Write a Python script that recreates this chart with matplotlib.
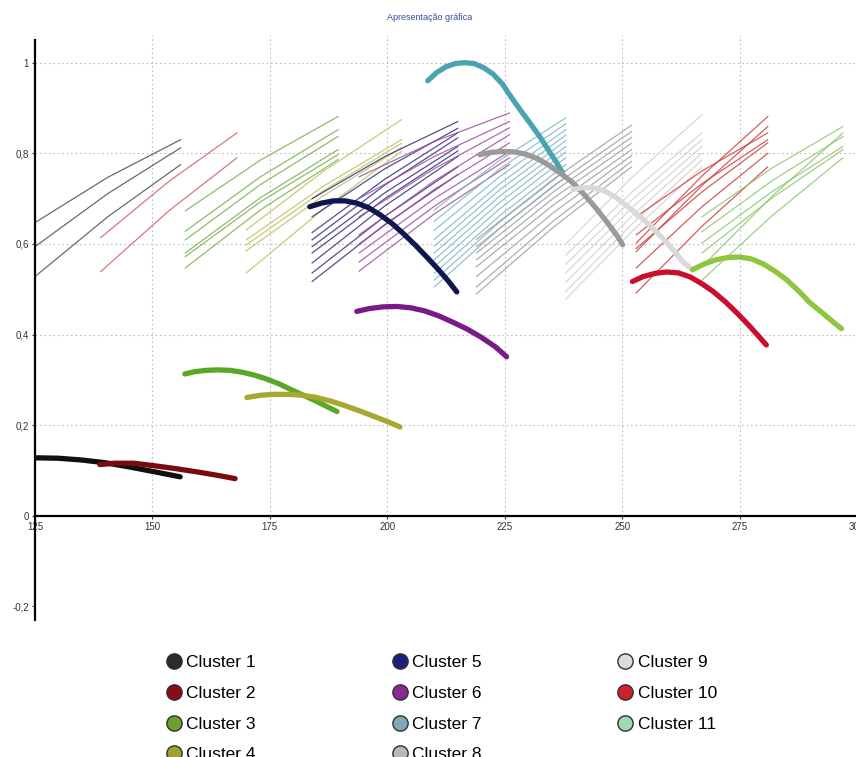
import matplotlib.pyplot as plt

plt.rcParams['font.family'] = ['Liberation Sans', 'DejaVu Sans']

labels = ['Cluster %d' % i for i in range(1, 12)]
legend_colors = ['#2a2a2a', '#8b0a1a', '#6aa030', '#a0a030', '#1a2080', '#8a2a90',
                 '#80a8b8', '#b8b8b8', '#dcdcdc', '#d02030', '#a0d8b0']
thin_colors = ['#505050', '#d06060', '#78b050', '#c0c060', '#303080', '#a050a0',
               '#80b8c8', '#a0a0a0', '#d0d0d0', '#d04040', '#8cc870']
thick_colors = ['#101010', '#7a0a10', '#5aa828', '#a8a830', '#101650', '#7a1a88',
                '#4aa3b0', '#9a9a9a', '#d9d9d9', '#c8102e', '#8dc63f']

# thin lines: x of start / middle / end, then y triples per line
thin_x = [[125, 140.5, 156], [139, 153.5, 168], [157, 173, 189.5], [170, 186.5, 203],
          [184, 199.5, 215], [194, 210, 226], [210, 224, 238], [219, 235.5, 252],
          [238, 252.5, 267], [253, 267, 281], [267, 282, 297]]
thin_c1 = [(0.647, 0.747, 0.830), (0.594, 0.711, 0.812), (0.528, 0.660, 0.775)]
thin_c2 = [(0.614, 0.738, 0.845), (0.539, 0.673, 0.790)]
thin_c3 = [(0.673, 0.785, 0.881), (0.628, 0.748, 0.852), (0.609, 0.731, 0.837),
           (0.580, 0.702, 0.808), (0.572, 0.693, 0.797), (0.547, 0.675, 0.786)]
thin_c4 = [(0.631, 0.761, 0.874), (0.609, 0.728, 0.830), (0.598, 0.718, 0.822),
           (0.585, 0.707, 0.812), (0.536, 0.678, 0.804)]
thin_c5 = [(0.700, 0.793, 0.870), (0.660, 0.766, 0.855), (0.625, 0.743, 0.845),
           (0.609, 0.730, 0.834), (0.594, 0.713, 0.815), (0.580, 0.700, 0.805),
           (0.558, 0.684, 0.793), (0.536, 0.661, 0.770), (0.517, 0.643, 0.753)]
thin_c6 = [(0.748, 0.826, 0.889), (0.700, 0.793, 0.870), (0.660, 0.766, 0.856),
           (0.620, 0.739, 0.841), (0.600, 0.720, 0.823), (0.580, 0.700, 0.804),
           (0.560, 0.683, 0.790), (0.540, 0.666, 0.775)]
thin_c7 = [(0.675, 0.785, 0.878), (0.650, 0.766, 0.865), (0.630, 0.749, 0.852),
           (0.610, 0.733, 0.840), (0.595, 0.720, 0.828), (0.580, 0.706, 0.815),
           (0.565, 0.692, 0.803), (0.550, 0.678, 0.790), (0.535, 0.663, 0.775),
           (0.520, 0.649, 0.762), (0.505, 0.635, 0.748)]
thin_c8 = [(0.610, 0.744, 0.862), (0.594, 0.729, 0.848), (0.580, 0.716, 0.835),
           (0.565, 0.702, 0.822), (0.550, 0.687, 0.808), (0.528, 0.670, 0.795),
           (0.505, 0.652, 0.782), (0.490, 0.638, 0.770)]
thin_c9 = [(0.600, 0.751, 0.885), (0.575, 0.718, 0.845), (0.555, 0.701, 0.830),
           (0.536, 0.684, 0.815), (0.515, 0.666, 0.800), (0.495, 0.648, 0.785),
           (0.478, 0.632, 0.770)]
thin_c10 = [(0.660, 0.761, 0.845), (0.602, 0.750, 0.881), (0.590, 0.715, 0.823),
            (0.583, 0.729, 0.859), (0.547, 0.682, 0.800), (0.492, 0.639, 0.770),
            (0.620, 0.733, 0.830)]
thin_c11 = [(0.660, 0.768, 0.859), (0.627, 0.740, 0.837), (0.602, 0.716, 0.815),
            (0.580, 0.702, 0.808), (0.520, 0.663, 0.790), (0.550, 0.706, 0.845)]
thin_y = [thin_c1, thin_c2, thin_c3, thin_c4, thin_c5, thin_c6,
          thin_c7, thin_c8, thin_c9, thin_c10, thin_c11]

# thick centroid curves, points read along each arc
thick_c1_x = [125, 130, 135, 140, 145, 150, 155.9]
thick_c1_y = [0.128, 0.127, 0.123, 0.117, 0.108, 0.098, 0.086]
thick_c2_x = [138.8, 142, 146, 150, 155, 160, 164, 167.6]
thick_c2_y = [0.113, 0.116, 0.116, 0.111, 0.104, 0.096, 0.089, 0.082]
thick_c3_x = [156.9, 159, 161.5, 164, 166.5, 169, 171.5, 174, 177, 180, 183, 186, 189.3]
thick_c3_y = [0.313, 0.318, 0.321, 0.322, 0.321, 0.317, 0.311, 0.303, 0.291, 0.276,
              0.262, 0.247, 0.230]
thick_c4_x = [170.1, 173, 176, 179, 182, 185, 188, 191, 194, 197, 200, 202.7]
thick_c4_y = [0.261, 0.266, 0.268, 0.268, 0.266, 0.261, 0.253, 0.243, 0.232, 0.220,
              0.208, 0.196]
thick_c5_x = [183.5, 186, 188.5, 191, 193.5, 196, 198.5, 201, 203.5, 206, 208.5, 211,
              213, 214.8]
thick_c5_y = [0.682, 0.690, 0.695, 0.695, 0.690, 0.680, 0.664, 0.645, 0.622, 0.597,
              0.570, 0.542, 0.518, 0.494]
thick_c6_x = [193.5, 196, 199, 202, 205, 208, 211, 214, 217, 220, 223, 225.4]
thick_c6_y = [0.451, 0.457, 0.461, 0.462, 0.459, 0.452, 0.441, 0.427, 0.412, 0.394,
              0.373, 0.351]
thick_c7_x = [208.6, 210.5, 212.5, 214.5, 216.5, 218.5, 220.5, 222.5, 224.5, 226.5,
              228.5, 230.5, 232.5, 234.5, 236, 237.3]
thick_c7_y = [0.960, 0.978, 0.991, 0.998, 1.000, 0.998, 0.989, 0.975, 0.953, 0.922,
              0.893, 0.865, 0.836, 0.804, 0.780, 0.757]
thick_c8_x = [219.7, 222, 224.5, 227, 229.5, 232, 234.5, 237, 239.5, 242, 244.5, 247,
              249, 250.1]
thick_c8_y = [0.797, 0.802, 0.804, 0.803, 0.798, 0.788, 0.773, 0.755, 0.735, 0.708,
              0.678, 0.645, 0.617, 0.598]
thick_c9_x = [239.5, 241.5, 243.7, 246, 248.5, 251, 253.5, 256, 258.5, 261, 263, 265]
thick_c9_y = [0.720, 0.724, 0.724, 0.718, 0.704, 0.684, 0.663, 0.640, 0.614, 0.585,
              0.560, 0.543]
thick_c10_x = [252.2, 254.5, 257, 259.5, 262, 264.5, 267, 269.5, 272, 274.5, 277, 279,
               280.7]
thick_c10_y = [0.517, 0.528, 0.535, 0.538, 0.536, 0.527, 0.512, 0.494, 0.472, 0.447,
               0.420, 0.397, 0.377]
thick_c11_x = [265, 267.5, 270, 272.5, 275, 277.5, 280, 282.5, 285, 287.5, 290, 292.5,
               295, 296.7]
thick_c11_y = [0.543, 0.556, 0.565, 0.570, 0.571, 0.567, 0.556, 0.540, 0.521, 0.497,
               0.470, 0.449, 0.427, 0.413]
thick_x = [thick_c1_x, thick_c2_x, thick_c3_x, thick_c4_x, thick_c5_x, thick_c6_x,
           thick_c7_x, thick_c8_x, thick_c9_x, thick_c10_x, thick_c11_x]
thick_y = [thick_c1_y, thick_c2_y, thick_c3_y, thick_c4_y, thick_c5_y, thick_c6_y,
           thick_c7_y, thick_c8_y, thick_c9_y, thick_c10_y, thick_c11_y]

xticks = [125, 150, 175, 200, 225, 250, 275, 300]
yticks = [-0.2, 0, 0.2, 0.4, 0.6, 0.8, 1]
ytick_labels = ['-0,2', '0', '0,2', '0,4', '0,6', '0,8', '1']

fig = plt.figure(figsize=(8.56, 7.57), dpi=100)
ax = fig.add_axes([35 / 856, 1 - 620 / 757, 822 / 856, 580 / 757])
ax.set_xlim(125, 300)
ax.set_ylim(-0.23, 1.05)

# dotted grid, only above zero
for gx in xticks[1:]:
    ax.plot([gx, gx], [0, 1.062], color='#bdbdbd', lw=0.8, ls=(0, (1.5, 2.5)),
            zorder=0, clip_on=False)
for gy in yticks[2:]:
    ax.plot([125, 300], [gy, gy], color='#bdbdbd', lw=0.8, ls=(0, (1.5, 2.5)), zorder=0)

for i in range(11):
    for ys in thin_y[i]:
        ax.plot(thin_x[i], ys, color=thin_colors[i], lw=0.9, alpha=0.85, zorder=2)

for i in range(11):
    ax.plot(thick_x[i], thick_y[i], color=thick_colors[i], lw=3.8,
            solid_capstyle='round', solid_joinstyle='round', zorder=3)

ax.spines['top'].set_visible(False)
ax.spines['right'].set_visible(False)
ax.spines['bottom'].set_position(('data', 0))
ax.spines['left'].set_linewidth(1.6)
ax.spines['bottom'].set_linewidth(1.6)
ax.spines['left'].set_bounds(-0.23, 1.05)

ax.set_xticks(xticks)
ax.set_xticklabels([str(t) for t in xticks])
ax.set_yticks(yticks)
ax.set_yticklabels(ytick_labels)
ax.tick_params(axis='both', length=2.5, width=0.8, labelsize=7, colors='#333333', pad=2)

fig.text(430 / 856, 1 - 18 / 757, 'Apresentação gráfica', ha='center', va='center',
         fontsize=6.5, color='#3a4a9a')

handles = [plt.Line2D([], [], ls='', marker='o', markersize=11,
                      markerfacecolor=c, markeredgecolor='#303030', markeredgewidth=1.0)
           for c in legend_colors]
fig.legend(handles, labels, loc='upper left', bbox_to_anchor=(158 / 856, 1 - 648 / 757),
           ncol=3, frameon=False, fontsize=12.5, handletextpad=0.2,
           columnspacing=7.8, labelspacing=0.9, borderaxespad=0, handlelength=1.0)

fig.savefig('out.png', dpi=100)
